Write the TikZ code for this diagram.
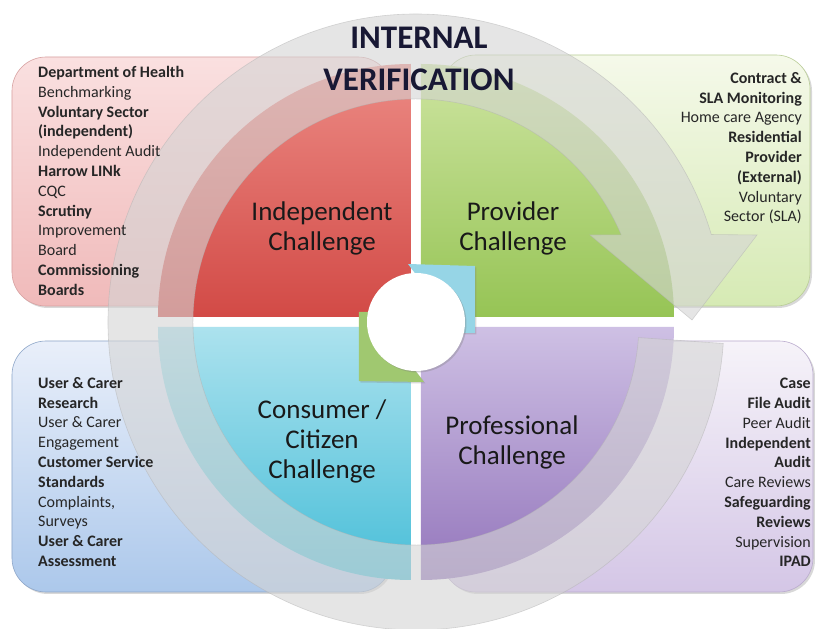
\documentclass[tikz,border=0pt]{standalone}
\usepackage{fontspec}
\setmainfont{Carlito}
\usetikzlibrary{shadows}
\definecolor{redtop}{RGB}{236,138,132}
\definecolor{redbot}{RGB}{210,74,70}
\definecolor{greentop}{RGB}{205,228,160}
\definecolor{greenbot}{RGB}{150,196,85}
\definecolor{bluetop}{RGB}{172,226,238}
\definecolor{bluebot}{RGB}{72,190,216}
\definecolor{purptop}{RGB}{206,192,228}
\definecolor{purpbot}{RGB}{148,118,188}
\definecolor{titlecol}{RGB}{24,24,52}
\definecolor{ringcol}{RGB}{212,212,212}
\definecolor{cyanarrow}{RGB}{150,213,230}
\definecolor{greenarrow}{RGB}{160,200,112}
\definecolor{pinkline}{RGB}{215,160,160}
\definecolor{pinktop}{RGB}{250,224,224}
\definecolor{pinkbot}{RGB}{240,186,186}
\definecolor{limeline}{RGB}{185,205,150}
\definecolor{limetop}{RGB}{245,249,234}
\definecolor{limebot}{RGB}{214,234,180}
\definecolor{skyline}{RGB}{140,165,200}
\definecolor{skytop}{RGB}{233,239,250}
\definecolor{skybot}{RGB}{172,200,235}
\definecolor{lilacline}{RGB}{185,170,205}
\definecolor{lilactop}{RGB}{246,243,249}
\definecolor{lilacbot}{RGB}{212,198,230}

\begin{document}
\begin{tikzpicture}[x=1pt,y=1pt,
            infobox/.style={rounded corners=34pt, line width=0.6pt, drop shadow={shadow xshift=2pt, shadow yshift=-2pt, opacity=0.3}},
            ringarrow/.style={fill=ringcol, fill opacity=0.6, draw=gray!60, draw opacity=0.5, line width=0.6pt},
            boxtext/.style={font=\fontsize{16}{19.8}\selectfont, inner sep=0pt, text=black!85},
            quadlabel/.style={font=\fontsize{27}{30}\selectfont, align=center, inner sep=0pt, text=black!90}]
            \useasboundingbox (-416,-307) rectangle (399,322);
            \fill [white] (-416,-307) rectangle (399,322);
            \draw [infobox, draw=pinkline, top color=pinktop, bottom color=pinkbot] (-404,265) rectangle (-24,16);
            \draw [infobox, draw=limeline, top color=limetop, bottom color=limebot] (26,267) rectangle (394,16);
            \draw [infobox, draw=skyline, top color=skytop, bottom color=skybot] (-404,-19) rectangle (-24,-270);
            \draw [infobox, draw=lilacline, top color=lilactop, bottom color=lilacbot] (26,-19) rectangle (397,-270);
            \shade [top color=redtop, bottom color=redbot] (-5,5) -- (-258,5) arc [start angle=180, end angle=90, radius=253] -- cycle;
            \shade [top color=greentop, bottom color=greenbot] (5,5) -- (5,258) arc [start angle=90, end angle=0, radius=253] -- cycle;
            \shade [top color=bluetop, bottom color=bluebot] (-5,-5) -- (-5,-258) arc [start angle=270, end angle=180, radius=253] -- cycle;
            \shade [top color=purptop, bottom color=purpbot] (5,-5) -- (258,-5) arc [start angle=0, end angle=-90, radius=253] -- cycle;
            \draw [ringarrow] (-4:308) arc [start angle=-4, end angle=-343.5, radius=308] -- (341,87) -- (276,2) -- (174,87) -- (23:223) arc [start angle=23, end angle=356, radius=223] -- cycle;
            \fill [cyanarrow, drop shadow={shadow xshift=1.5pt, shadow yshift=-1.5pt, opacity=0.3}] (-8,58) -- (59,56) -- (59,-11) -- (2,-11) -- (2,45) -- cycle;
            \fill [greenarrow, drop shadow={shadow xshift=1.5pt, shadow yshift=-1.5pt, opacity=0.3}] (8,-60) -- (-57,-59) -- (-57,10) -- (-2,10) -- (-2,-47) -- cycle;
            \fill [white, drop shadow={shadow xshift=1.5pt, shadow yshift=-1.5pt, opacity=0.35}] (0,0) circle (49);
            \draw (-378,256) node [boxtext, anchor=north west, align=left] (healthtxt) {\textbf{Department of Health}\\Benchmarking\\\textbf{Voluntary Sector}\\\textbf{(independent)}\\Independent Audit\\\textbf{Harrow LINk}\\CQC\\\textbf{Scrutiny}\\Improvement\\Board\\\textbf{Commissioning}\\\textbf{Boards}};
            \draw (386,250) node [boxtext, anchor=north east, align=right] (contracttxt) {\textbf{Contract \&}\\\textbf{SLA Monitoring}\\Home care Agency\\\textbf{Residential}\\\textbf{Provider}\\\textbf{(External)}\\Voluntary\\Sector (SLA)};
            \draw (-378,-55) node [boxtext, anchor=north west, align=left] (usertxt) {\textbf{User \& Carer}\\\textbf{Research}\\User \& Carer\\Engagement\\\textbf{Customer Service}\\\textbf{Standards}\\Complaints,\\Surveys\\\textbf{User \& Carer}\\\textbf{Assessment}};
            \draw (395,-56) node [boxtext, anchor=north east, align=right] (casetxt) {\textbf{Case}\\\textbf{File Audit}\\Peer Audit\\\textbf{Independent}\\\textbf{Audit}\\Care Reviews\\\textbf{Safeguarding}\\\textbf{Reviews}\\Supervision\\\textbf{IPAD}};
            \draw (-94,94) node [quadlabel] (independent) {Independent\\Challenge};
            \draw (97,94) node [quadlabel] (provider) {Provider\\Challenge};
            \draw (-94,-119) node [quadlabel] (consumer) {Consumer /\\Citizen\\Challenge};
            \draw (96,-120) node [quadlabel] (professional) {Professional\\Challenge};
            \draw (3,263) node [font=\fontsize{33}{42}\selectfont\bfseries, align=center, inner sep=0pt, text=titlecol] (title) {INTERNAL\\VERIFICATION};
            \end{tikzpicture}
\end{document}
